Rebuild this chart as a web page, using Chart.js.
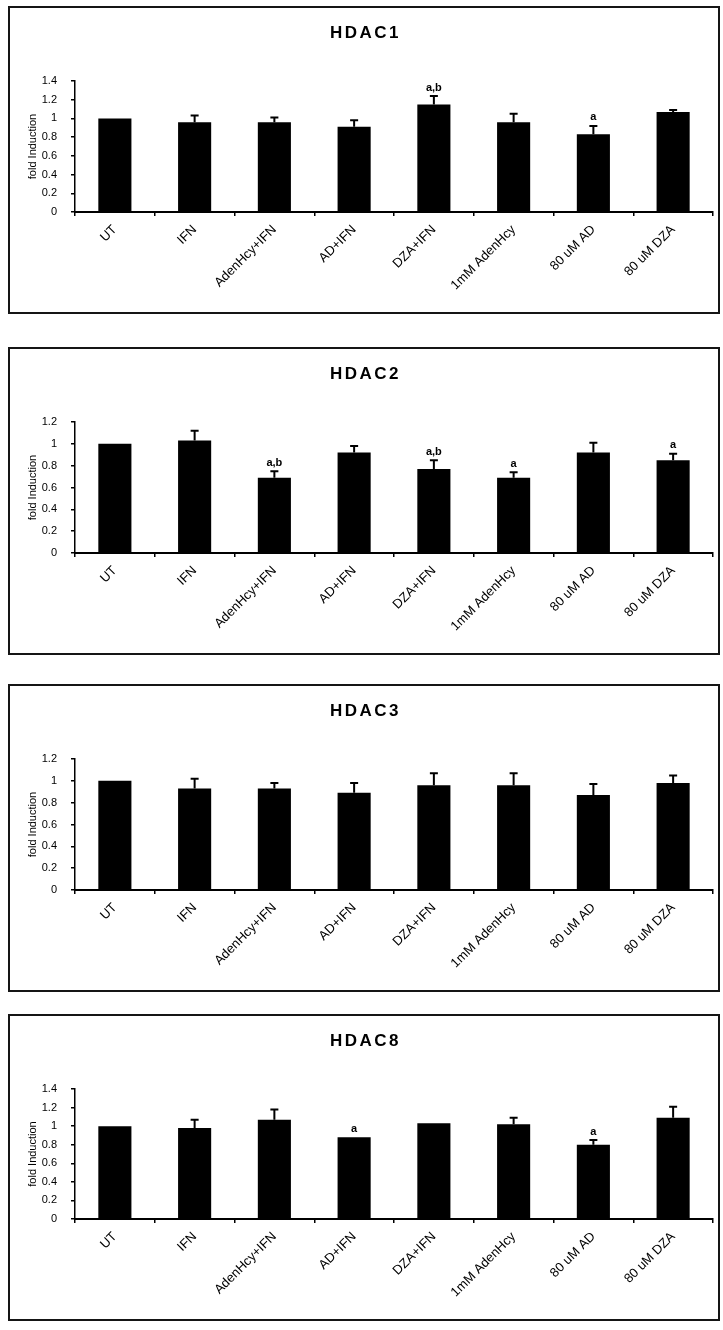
<!DOCTYPE html>
<html>
<head>
<meta charset="utf-8">
<script src="https://cdn.jsdelivr.net/npm/chart.js@4.4.1/dist/chart.umd.min.js"></script>
<style>
  html, body { margin: 0; padding: 0; background: #fff; }
  body { width: 723px; height: 1330px; position: relative; overflow: hidden; }
  .panel { position: absolute; left: 8px; width: 712px; box-sizing: border-box; border: 2px solid #151515; background: #fff; }
  .panel canvas { display: block; }
</style>
</head>
<body>
<div class="panel" style="top:6px;height:308px"><canvas id="hdac1" width="708" height="304"></canvas></div>
<div class="panel" style="top:347px;height:308px"><canvas id="hdac2" width="708" height="304"></canvas></div>
<div class="panel" style="top:684px;height:308px"><canvas id="hdac3" width="708" height="304"></canvas></div>
<div class="panel" style="top:1014px;height:307px"><canvas id="hdac8" width="708" height="303"></canvas></div>
<script>
const categories = ['UT', 'IFN', 'AdenHcy+IFN', 'AD+IFN', 'DZA+IFN', '1mM AdenHcy', '80 uM AD', '80 uM DZA'];

// HDAC1
const hdac1Values = [1.00, 0.96, 0.96, 0.91, 1.15, 0.96, 0.83, 1.07];
const hdac1Errors = [0, 0.07, 0.05, 0.07, 0.09, 0.09, 0.09, 0.02];
const hdac1Marks = ['', '', '', '', 'a,b', '', 'a', ''];

// HDAC2
const hdac2Values = [1.00, 1.03, 0.69, 0.92, 0.77, 0.69, 0.92, 0.85];
const hdac2Errors = [0, 0.09, 0.06, 0.06, 0.08, 0.05, 0.09, 0.06];
const hdac2Marks = ['', '', 'a,b', '', 'a,b', 'a', '', 'a'];

// HDAC3
const hdac3Values = [1.00, 0.93, 0.93, 0.89, 0.96, 0.96, 0.87, 0.98];
const hdac3Errors = [0, 0.09, 0.05, 0.09, 0.11, 0.11, 0.10, 0.07];
const hdac3Marks = ['', '', '', '', '', '', '', ''];

// HDAC8
const hdac8Values = [1.00, 0.98, 1.07, 0.88, 1.03, 1.02, 0.80, 1.09];
const hdac8Errors = [0, 0.09, 0.11, 0, 0, 0.07, 0.05, 0.12];
const hdac8Marks = ['', '', '', 'a', '', '', 'a', ''];

const yTickStep = 0.2;
const FONT = '"Liberation Sans", Arial, sans-serif';

// error bars (upper only), significance letters and the panel title
const extras = {
    id: 'extras',
    afterDatasetsDraw(chart, args, opts) {
        const ctx = chart.ctx;
        const yScale = chart.scales.y;
        const meta = chart.getDatasetMeta(0);
        const values = chart.data.datasets[0].data;
        ctx.save();
        ctx.strokeStyle = '#000';
        ctx.fillStyle = '#000';
        ctx.lineWidth = 2;
        opts.errors.forEach((err, i) => {
            const cx = meta.data[i].x;
            const yBar = yScale.getPixelForValue(values[i]);
            const yTop = yScale.getPixelForValue(values[i] + err);
            if (err > 0) {
                ctx.beginPath();
                ctx.moveTo(cx, yBar);
                ctx.lineTo(cx, yTop);
                ctx.moveTo(cx - 4, yTop);
                ctx.lineTo(cx + 4, yTop);
                ctx.stroke();
            }
            if (opts.marks[i]) {
                ctx.font = 'bold 11px ' + FONT;
                ctx.textAlign = 'center';
                ctx.textBaseline = 'bottom';
                ctx.fillText(opts.marks[i], cx, yTop - 3);
            }
        });
        ctx.font = 'bold 17px ' + FONT;
        ctx.letterSpacing = '2.5px';
        ctx.textAlign = 'center';
        ctx.textBaseline = 'middle';
        ctx.fillText(opts.title, chart.width / 2 + 1.5, 25);
        ctx.restore();
    }
};

function makeChart(id, title, values, errors, marks, yMax) {
    const ctx = document.getElementById(id).getContext('2d');
    return new Chart(ctx, {
        type: 'bar',
        data: {
            labels: categories,
            datasets: [{
                data: values,
                backgroundColor: '#000',
                borderWidth: 0,
                barPercentage: 0.415,
                categoryPercentage: 1
            }]
        },
        plugins: [extras],
        options: {
            responsive: false,
            animation: false,
            layout: { padding: { top: 73, right: 5, left: 0, bottom: 0 } },
            scales: {
                x: {
                    afterFit: s => { s.height = 100; },
                    grid: { offset: true, drawOnChartArea: false, drawTicks: true, tickLength: 4, color: '#000', lineWidth: 1.5 },
                    border: { display: true, color: '#000', width: 2 },
                    ticks: {
                        minRotation: 45, maxRotation: 45, autoSkip: false, padding: 6,
                        color: '#000', font: { family: FONT, size: 13 }
                    }
                },
                y: {
                    min: 0,
                    max: yMax,
                    afterFit: s => { s.width = 65; },
                    grid: { drawOnChartArea: false, drawTicks: true, tickLength: 4, color: '#000', lineWidth: 1.5 },
                    border: { display: true, color: '#000', width: 1.5 },
                    ticks: {
                        stepSize: yTickStep, padding: 14, color: '#000',
                        font: { family: FONT, size: 11 },
                        callback: v => String(Math.round(v * 10) / 10)
                    },
                    title: {
                        display: true, text: 'fold Induction', color: '#000',
                        font: { family: FONT, size: 11 },
                        padding: { top: 16, bottom: 0 }
                    }
                }
            },
            plugins: {
                legend: { display: false },
                tooltip: { enabled: false },
                title: { display: false },
                extras: { title: title, errors: errors, marks: marks }
            }
        }
    });
}

makeChart('hdac1', 'HDAC1', hdac1Values, hdac1Errors, hdac1Marks, 1.4);
makeChart('hdac2', 'HDAC2', hdac2Values, hdac2Errors, hdac2Marks, 1.2);
makeChart('hdac3', 'HDAC3', hdac3Values, hdac3Errors, hdac3Marks, 1.2);
makeChart('hdac8', 'HDAC8', hdac8Values, hdac8Errors, hdac8Marks, 1.4);
</script>
</body>
</html>
